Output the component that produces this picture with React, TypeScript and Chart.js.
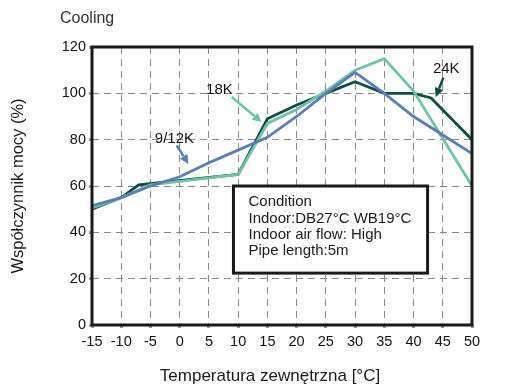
import React, { useEffect, useRef } from "react";
import { Chart, registerables } from "chart.js";

Chart.register(...registerables);

// Axis ticks
const xTicks = [-15, -10, -5, 0, 5, 10, 15, 20, 25, 30, 35, 40, 45, 50];
const yTicks = [0, 20, 40, 60, 80, 100, 120];

// 9/12K unit: outdoor temperature [°C] -> capacity factor [%]
const temps912 = [-15, -10, -5, 0, 5, 10, 15, 20, 25, 30, 35, 40, 45, 50];
const cap912 = [51.5, 55, 60, 64, 70, 75.5, 81, 90, 100, 109, 100, 90, 82, 74];

// 18K unit
const temps18 = [-15, -10, -5, 0, 5, 10, 15, 20, 25, 30, 35, 40, 50];
const cap18 = [50.5, 55, 60.5, 62, 63.5, 65, 87, 93, 101, 110, 115, 101, 60];

// 24K unit
const temps24 = [-15, -10, -7, 10, 15, 20, 25, 30, 35, 40, 43, 50];
const cap24 = [50, 55, 60.5, 65, 89, 95, 100, 105, 100, 100, 98, 80];

const seriesNames = ["9/12K", "18K", "24K"];
const seriesColors = ["#5b7db6", "#6fc3a6", "#0f4c45"];

// Callout labels: text centre, arrow tail, arrow tip (data units)
const calloutText = [[-0.9, 80.3], [6.8, 101.4], [45.6, 110.5]];
const calloutTail = [[-0.5, 77.5], [8.9, 98.4], [45.1, 106.8]];
const calloutTip = [[1.5, 69.5], [14.0, 87.6], [43.8, 98.4]];

const conditionLines = [
  "Condition",
  "Indoor:DB27°C WB19°C",
  "Indoor air flow: High",
  "Pipe length:5m",
];
// Condition box corners (data units): left, top, right, bottom
const conditionBox = [9.2, 60, 42.4, 22.4];

const chartTitle = "Cooling";
const xTitle = "Temperatura zewnętrzna [°C]";
const yTitle = "Współczynnik mocy (%)";

const FONT = "'Liberation Sans', Arial, sans-serif";

function pts(xs: number[], ys: number[]) {
  return xs.map((x, i) => ({ x, y: ys[i] }));
}

function drawArrow(ctx: CanvasRenderingContext2D, x0: number, y0: number, x1: number, y1: number, color: string) {
  const ang = Math.atan2(y1 - y0, x1 - x0);
  const head = 9;
  const hw = 4.5;
  const bx = x1 - head * Math.cos(ang);
  const by = y1 - head * Math.sin(ang);
  ctx.strokeStyle = color;
  ctx.fillStyle = color;
  ctx.lineWidth = 2.5;
  ctx.beginPath();
  ctx.moveTo(x0, y0);
  ctx.lineTo(bx, by);
  ctx.stroke();
  ctx.beginPath();
  ctx.moveTo(x1, y1);
  ctx.lineTo(bx - hw * Math.sin(ang), by + hw * Math.cos(ang));
  ctx.lineTo(bx + hw * Math.sin(ang), by - hw * Math.cos(ang));
  ctx.closePath();
  ctx.fill();
}

const decorations = {
  id: "decorations",
  beforeDraw(chart: any) {
    const { ctx, width, height } = chart;
    ctx.save();
    ctx.fillStyle = "#ffffff";
    ctx.fillRect(0, 0, width, height);
    ctx.restore();
  },
  afterDatasetsDraw(chart: any) {
    const { ctx, chartArea, scales } = chart;
    const { left, top, right, bottom } = chartArea;
    const x = scales.x;
    const y = scales.y;
    ctx.save();

    // plot frame
    ctx.strokeStyle = "#1a1a1a";
    ctx.lineWidth = 3;
    ctx.strokeRect(left, top, right - left, bottom - top);

    // callouts
    ctx.font = `15px ${FONT}`;
    ctx.textAlign = "center";
    ctx.textBaseline = "middle";
    for (let i = 0; i < seriesNames.length; i++) {
      drawArrow(
        ctx,
        x.getPixelForValue(calloutTail[i][0]),
        y.getPixelForValue(calloutTail[i][1]),
        x.getPixelForValue(calloutTip[i][0]),
        y.getPixelForValue(calloutTip[i][1]),
        seriesColors[i]
      );
      ctx.fillStyle = "#111111";
      ctx.fillText(seriesNames[i], x.getPixelForValue(calloutText[i][0]), y.getPixelForValue(calloutText[i][1]));
    }

    // condition box
    const bl = x.getPixelForValue(conditionBox[0]);
    const bt = y.getPixelForValue(conditionBox[1]);
    const br = x.getPixelForValue(conditionBox[2]);
    const bb = y.getPixelForValue(conditionBox[3]);
    ctx.fillStyle = "#ffffff";
    ctx.fillRect(bl, bt, br - bl, bb - bt);
    ctx.strokeStyle = "#1a1a1a";
    ctx.lineWidth = 3;
    ctx.strokeRect(bl, bt, br - bl, bb - bt);
    ctx.fillStyle = "#1a1a1a";
    ctx.font = `15px ${FONT}`;
    ctx.textAlign = "left";
    ctx.textBaseline = "middle";
    conditionLines.forEach((line, i) => {
      ctx.fillText(line, bl + 15, bt + 16 + i * 16.4);
    });

    // titles
    ctx.fillStyle = "#333333";
    ctx.font = `16px ${FONT}`;
    ctx.textAlign = "left";
    ctx.fillText(chartTitle, 60, 19);

    ctx.fillStyle = "#1a1a1a";
    ctx.font = `17px ${FONT}`;
    ctx.textAlign = "center";
    ctx.fillText(xTitle, 270, 376);

    ctx.translate(18, (top + bottom) / 2);
    ctx.rotate(-Math.PI / 2);
    ctx.font = `16.5px ${FONT}`;
    ctx.fillText(yTitle, 0, 0);
    ctx.restore();
  },
};

export default function App() {
  const canvasRef = useRef<HTMLCanvasElement | null>(null);

  useEffect(() => {
    if (!canvasRef.current) return;
    const lineDs = (label: string, data: any[], color: string) => ({
      label,
      data,
      borderColor: color,
      backgroundColor: color,
      borderWidth: 2.8,
      pointRadius: 0,
      tension: 0,
      fill: false,
    });
    const chart = new Chart(canvasRef.current, {
      type: "line",
      data: {
        datasets: [
          lineDs(seriesNames[0], pts(temps912, cap912), seriesColors[0]),
          lineDs(seriesNames[1], pts(temps18, cap18), seriesColors[1]),
          lineDs(seriesNames[2], pts(temps24, cap24), seriesColors[2]),
        ],
      },
      options: {
        animation: false,
        responsive: true,
        maintainAspectRatio: false,
        layout: { padding: { top: 47, right: 33, left: 0, bottom: 0 } },
        plugins: {
          legend: { display: false },
          tooltip: { enabled: false },
          title: { display: false },
        },
        scales: {
          x: {
            type: "linear",
            min: xTicks[0],
            max: xTicks[xTicks.length - 1],
            afterBuildTicks: (s: any) => {
              s.ticks = xTicks.map((v) => ({ value: v }));
            },
            afterFit: (s: any) => {
              s.height = 65;
            },
            ticks: {
              color: "#111111",
              font: { family: FONT, size: 14.5 },
              padding: 5,
              maxRotation: 0,
              autoSkip: false,
              callback: (v: any) => String(v),
            },
            grid: {
              color: "#888888",
              lineWidth: 1,
              tickLength: 3,
              tickColor: "#9a9a9a",
              tickWidth: 3,
            },
            border: { display: false, dash: [7, 5] },
          },
          y: {
            min: yTicks[0],
            max: yTicks[yTicks.length - 1],
            afterBuildTicks: (s: any) => {
              s.ticks = yTicks.map((v) => ({ value: v }));
            },
            afterFit: (s: any) => {
              s.width = 92;
            },
            ticks: {
              color: "#111111",
              font: { family: FONT, size: 14.5 },
              padding: 3,
              autoSkip: false,
              callback: (v: any) => String(v),
            },
            grid: {
              color: "#888888",
              lineWidth: 1,
              tickLength: 3,
              tickColor: "#9a9a9a",
              tickWidth: 3,
            },
            border: { display: false, dash: [7, 5] },
          },
        },
      },
      plugins: [decorations],
    } as any);
    return () => chart.destroy();
  }, []);

  return (
    <div style={{ position: "absolute", left: 0, top: 0, width: 505, height: 390 }}>
      <canvas ref={canvasRef} />
    </div>
  );
}
